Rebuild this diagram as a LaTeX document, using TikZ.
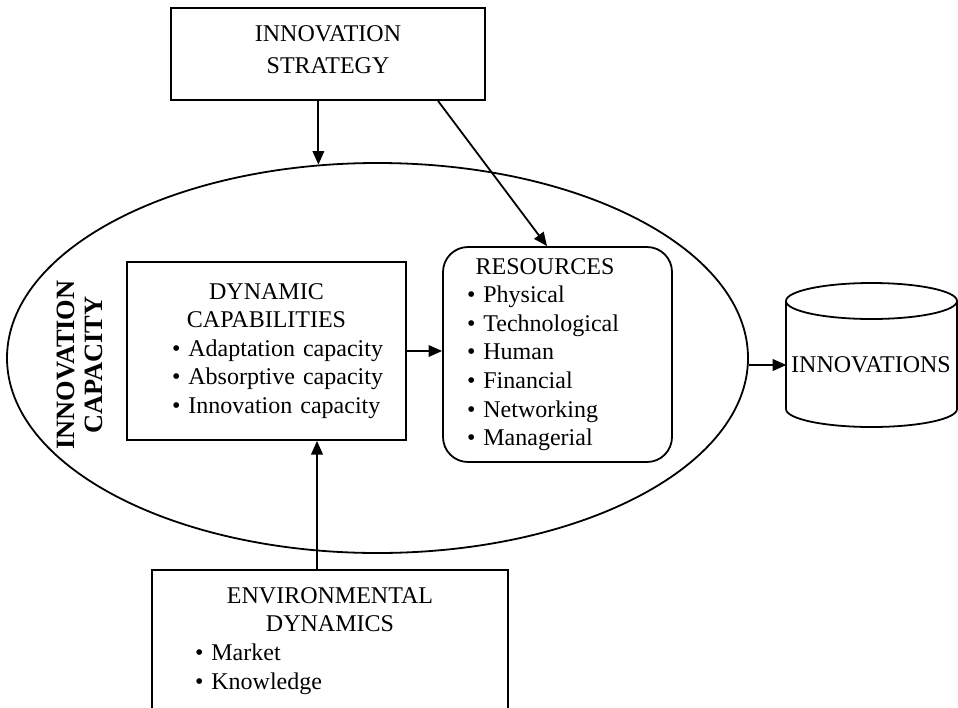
\documentclass[tikz,border=0pt]{standalone}
\usepackage{fontspec}
\setmainfont{Liberation Serif}
\usetikzlibrary{shapes.geometric,arrows.meta}
\newdimen\px \px=0.5pt
\newcommand{\hd}[1]{\makebox[\linewidth]{#1}}
\newcommand{\itm}[2]{\hspace*{#1\px}\textbullet\ #2}

\begin{document}
\begin{tikzpicture}[x=0.5pt,y=-0.5pt,line width=0.9pt,
  every node/.style={font=\fontsize{12}{14.3}\selectfont},
  box/.style={draw,inner xsep=0pt,inner ysep=0pt,align=left},
  arr/.style={-{Triangle[length=6.8pt,width=5.8pt]}}]
\clip (0,0) rectangle (958,707);

\node[box,align=center,text width=314\px,minimum height=92\px,font=\fontsize{12}{15.7}\selectfont] (strat) at (328,54) {INNOVATION\\STRATEGY\\[-11.2pt]\mbox{}};

\node[draw,ellipse,inner sep=0pt,minimum width=741\px,minimum height=390\px] (cap) at (377.5,358) {};
\node[rotate=90,align=center,font=\fontsize{13.2}{14}\selectfont\bfseries] (caplabel) at (80,365) {INNOVATION\\CAPACITY};

\node[box,text width=279\px,minimum height=178\px] (dyn) at (266.5,351) {\hd{DYNAMIC}\\\hd{CAPABILITIES}\\\itm{45}{Adaptation capacity}\\\itm{45}{Absorptive capacity}\\\itm{45}{Innovation capacity}};

\node[box,rounded corners=12.5pt,text width=229\px,minimum height=215\px] (res) at (557.5,354.5) {\hd{RESOURCES\hspace*{25\px}}\\\itm{24}{Physical}\\\itm{24}{Technological}\\\itm{24}{Human}\\\itm{24}{Financial}\\\itm{24}{Networking}\\\itm{24}{Managerial}};

\node[box,anchor=north,text width=356\px,minimum height=142\px] (env) at (330,569) {\hd{ENVIRONMENTAL}\\\hd{DYNAMICS}\\\itm{43}{Market}\\\itm{43}{Knowledge}};

\node[inner sep=2pt] (inn) at (871,365) {INNOVATIONS};
\draw (786,301) -- (786,409) arc[start angle=180,end angle=360,x radius=85.5\px,y radius=18\px] -- (957,301);
\draw (871.5,301) ellipse [x radius=85.5\px,y radius=18\px];

\draw[arr] (strat.south -| cap.107.5) -- (cap.107.5);
\draw[arr] ([xshift=110\px]strat.south) -- ([xshift=-10.5\px]res.north);
\draw[arr] (dyn.east) -- (dyn.east -| res.west);
\draw[arr] ([xshift=-13\px]env.north) -- ([xshift=50.5\px]dyn.south);
\draw[arr] (cap.east |- inn) -- (inn.west);
\end{tikzpicture}
\end{document}
